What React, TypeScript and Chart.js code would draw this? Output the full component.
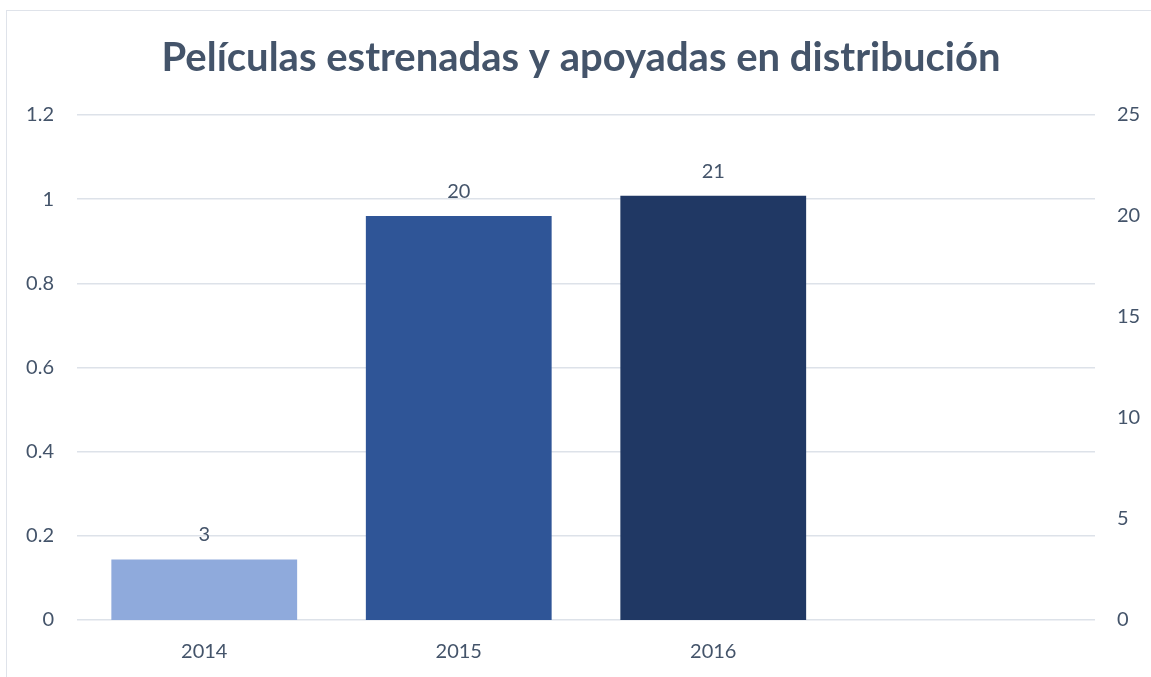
import React, { useEffect, useRef } from "react";
import { Chart, registerables } from "chart.js";

Chart.register(...registerables);

const TITLE = "Películas estrenadas y apoyadas en distribución";
const categories = ["2014", "2015", "2016", ""];
const peliculas = [3, 20, 21, null];
const barColors = ["#8FAADC", "#2F5597", "#203864", "#203864"];
const leftTicks = { min: 0, max: 1.2, step: 0.2 };
const rightTicks = { min: 0, max: 25, step: 5 };

const TEXT = "#44546A";
const FONT = "Lato";

const titlePlugin = {
  id: "customTitle",
  afterDraw(chart: any) {
    const ctx = chart.ctx;
    ctx.save();
    ctx.font = `bold 40px ${FONT}`;
    ctx.fillStyle = TEXT;
    ctx.textAlign = "center";
    ctx.textBaseline = "alphabetic";
    ctx.fillText(TITLE, 581, 71);
    ctx.restore();
  },
};

const labelPlugin = {
  id: "barLabels",
  afterDatasetsDraw(chart: any) {
    const ctx = chart.ctx;
    const meta = chart.getDatasetMeta(0);
    ctx.save();
    ctx.font = `20px ${FONT}`;
    ctx.fillStyle = TEXT;
    ctx.textAlign = "center";
    ctx.textBaseline = "alphabetic";
    meta.data.forEach((bar: any, i: number) => {
      const v = peliculas[i];
      if (v === null || v === undefined) return;
      ctx.fillText(String(v), bar.x, bar.y - 18);
    });
    ctx.restore();
  },
};

export default function App() {
  const ref = useRef<HTMLCanvasElement | null>(null);
  useEffect(() => {
    if (!ref.current) return;
    const chart = new Chart(ref.current, {
      type: "bar",
      data: {
        labels: categories,
        datasets: [
          {
            data: peliculas as any,
            backgroundColor: barColors,
            yAxisID: "y1",
            barPercentage: 0.73,
            categoryPercentage: 1,
          },
        ],
      },
      options: {
        animation: false,
        responsive: false,
        devicePixelRatio: 1,
        layout: { padding: { top: 115, left: 0, right: 0, bottom: 0 } },
        plugins: { legend: { display: false }, tooltip: { enabled: false }, title: { display: false } },
        scales: {
          x: {
            grid: { display: false },
            border: { display: false },
            ticks: { color: TEXT, font: { family: FONT, size: 20 }, padding: 12 },
            afterFit: (s: any) => { s.height = 57; },
          },
          y: {
            position: "left",
            min: leftTicks.min,
            max: leftTicks.max,
            ticks: {
              stepSize: leftTicks.step,
              color: TEXT,
              font: { family: FONT, size: 20 },
              padding: 23,
              callback: (v: any) => String(Math.round(Number(v) * 10) / 10),
            },
            grid: { color: "#DDE2E9", lineWidth: 1.5, drawTicks: false },
            border: { display: false },
            afterFit: (s: any) => { s.width = 77; },
          },
          y1: {
            position: "right",
            min: rightTicks.min,
            max: rightTicks.max,
            ticks: { stepSize: rightTicks.step, color: TEXT, font: { family: FONT, size: 20 }, padding: 22 },
            grid: { display: false, drawTicks: false },
            border: { display: false },
            afterFit: (s: any) => { s.width = 56; },
          },
        },
      },
      plugins: [titlePlugin, labelPlugin],
    });
    return () => chart.destroy();
  }, []);
  return (
    <>
      <div
        style={{
          position: "fixed",
          left: 6,
          top: 10,
          width: 1200,
          height: 700,
          border: "1px solid #DFE3EA",
          background: "#fff",
        }}
      />
      <canvas
        ref={ref}
        width={1151}
        height={677}
        style={{ position: "fixed", left: 0, top: 0, width: 1151, height: 677 }}
      />
    </>
  );
}
